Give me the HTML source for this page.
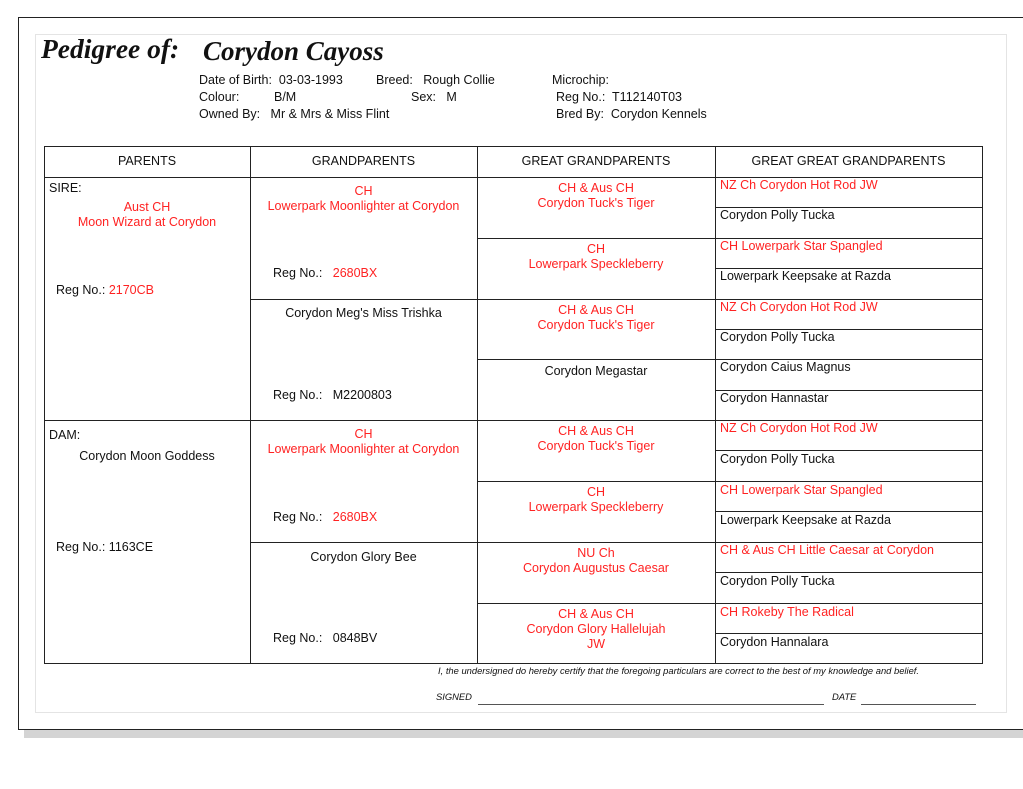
<!DOCTYPE html>
<html><head><meta charset="utf-8"><style>
*{margin:0;padding:0;box-sizing:border-box}
body{width:1023px;height:789px;background:#fff;position:relative;overflow:hidden;font-family:"Liberation Sans",sans-serif;font-size:12.5px;color:#111}
.a{position:absolute;white-space:nowrap;line-height:15px;margin-top:2px}
.r{color:#ff2222}
.c{text-align:center}
.h{position:absolute;background:#222;height:1px}
.v{position:absolute;background:#222;width:1px}
</style></head><body>
<div style="position:absolute;left:18px;top:17px;width:1010px;height:713px;border:1px solid #222;border-right:none"></div>
<div style="position:absolute;left:24px;top:730px;width:1000px;height:8px;background:#d4d4d4"></div>
<div style="position:absolute;left:35px;top:34px;width:972px;height:679px;border:1px solid #e4e4e4"></div>
<div class="a" style="left:41px;top:32px;font-family:'Liberation Serif',serif;font-style:italic;font-weight:bold;font-size:27.5px;line-height:30px">Pedigree of:</div>
<div class="a" style="left:203px;top:34px;font-family:'Liberation Serif',serif;font-style:italic;font-weight:bold;font-size:27px;line-height:30px">Corydon Cayoss</div>
<div class="a" style="left:199px;top:71px">Date of Birth:&nbsp; 03-03-1993</div>
<div class="a" style="left:376px;top:71px">Breed:&nbsp;&nbsp; Rough Collie</div>
<div class="a" style="left:552px;top:71px">Microchip:</div>
<div class="a" style="left:199px;top:88px">Colour:</div>
<div class="a" style="left:274px;top:88px">B/M</div>
<div class="a" style="left:411px;top:88px">Sex:&nbsp;&nbsp; M</div>
<div class="a" style="left:556px;top:88px">Reg No.:&nbsp; T112140T03</div>
<div class="a" style="left:199px;top:105px">Owned By:&nbsp;&nbsp; Mr &amp; Mrs &amp; Miss Flint</div>
<div class="a" style="left:556px;top:105px">Bred By:&nbsp; Corydon Kennels</div>

<div style="position:absolute;left:44px;top:146px;width:939px;height:518px;border:1px solid #222"></div>
<div class="h" style="left:44px;top:177px;width:938px"></div>
<div class="v" style="left:250px;top:146px;height:517px"></div>
<div class="v" style="left:477px;top:146px;height:517px"></div>
<div class="v" style="left:715px;top:146px;height:517px"></div>
<div class="h" style="left:44px;top:420px;width:938px"></div>
<div class="h" style="left:250px;top:299px;width:732px"></div>
<div class="h" style="left:250px;top:542px;width:732px"></div>
<div class="h" style="left:477px;top:238px;width:505px"></div>
<div class="h" style="left:477px;top:359px;width:505px"></div>
<div class="h" style="left:477px;top:481px;width:505px"></div>
<div class="h" style="left:477px;top:603px;width:505px"></div>
<div class="h" style="left:715px;top:207px;width:267px"></div>
<div class="h" style="left:715px;top:268px;width:267px"></div>
<div class="h" style="left:715px;top:329px;width:267px"></div>
<div class="h" style="left:715px;top:390px;width:267px"></div>
<div class="h" style="left:715px;top:450px;width:267px"></div>
<div class="h" style="left:715px;top:511px;width:267px"></div>
<div class="h" style="left:715px;top:572px;width:267px"></div>
<div class="h" style="left:715px;top:633px;width:267px"></div>

<div class="a c" style="left:44px;width:206px;top:152px">PARENTS</div>
<div class="a c" style="left:250px;width:227px;top:152px">GRANDPARENTS</div>
<div class="a c" style="left:477px;width:238px;top:152px">GREAT GRANDPARENTS</div>
<div class="a c" style="left:715px;width:267px;top:152px">GREAT GREAT GRANDPARENTS</div>

<div class="a" style="left:49px;top:179px">SIRE:</div>
<div class="a c r" style="left:44px;width:206px;top:198px">Aust CH<br>Moon Wizard at Corydon</div>
<div class="a" style="left:56px;top:281px">Reg No.: <span class="r">2170CB</span></div>
<div class="a" style="left:49px;top:426px">DAM:</div>
<div class="a c" style="left:44px;width:206px;top:447px">Corydon Moon Goddess</div>
<div class="a" style="left:56px;top:538px">Reg No.: 1163CE</div>

<div class="a c r" style="left:250px;width:227px;top:182px">CH<br>Lowerpark Moonlighter at Corydon</div>
<div class="a" style="left:273px;top:264px">Reg No.:&nbsp;&nbsp; <span class="r">2680BX</span></div>
<div class="a c" style="left:250px;width:227px;top:304px">Corydon Meg's Miss Trishka</div>
<div class="a" style="left:273px;top:386px">Reg No.:&nbsp;&nbsp; M2200803</div>
<div class="a c r" style="left:250px;width:227px;top:425px">CH<br>Lowerpark Moonlighter at Corydon</div>
<div class="a" style="left:273px;top:508px">Reg No.:&nbsp;&nbsp; <span class="r">2680BX</span></div>
<div class="a c" style="left:250px;width:227px;top:548px">Corydon Glory Bee</div>
<div class="a" style="left:273px;top:629px">Reg No.:&nbsp;&nbsp; 0848BV</div>

<div class="a c r" style="left:477px;width:238px;top:179px">CH &amp; Aus CH<br>Corydon Tuck's Tiger</div>
<div class="a c r" style="left:477px;width:238px;top:240px">CH<br>Lowerpark Speckleberry</div>
<div class="a c r" style="left:477px;width:238px;top:301px">CH &amp; Aus CH<br>Corydon Tuck's Tiger</div>
<div class="a c" style="left:477px;width:238px;top:362px">Corydon Megastar</div>
<div class="a c r" style="left:477px;width:238px;top:422px">CH &amp; Aus CH<br>Corydon Tuck's Tiger</div>
<div class="a c r" style="left:477px;width:238px;top:483px">CH<br>Lowerpark Speckleberry</div>
<div class="a c r" style="left:477px;width:238px;top:544px">NU Ch<br>Corydon Augustus Caesar</div>
<div class="a c r" style="left:477px;width:238px;top:605px">CH &amp; Aus CH<br>Corydon Glory Hallelujah<br>JW</div>

<div class="a r" style="left:720px;top:176px">NZ Ch Corydon Hot Rod JW</div>
<div class="a" style="left:720px;top:206px">Corydon Polly Tucka</div>
<div class="a r" style="left:720px;top:237px">CH Lowerpark Star Spangled</div>
<div class="a" style="left:720px;top:267px">Lowerpark Keepsake at Razda</div>
<div class="a r" style="left:720px;top:298px">NZ Ch Corydon Hot Rod JW</div>
<div class="a" style="left:720px;top:328px">Corydon Polly Tucka</div>
<div class="a" style="left:720px;top:358px">Corydon Caius Magnus</div>
<div class="a" style="left:720px;top:389px">Corydon Hannastar</div>
<div class="a r" style="left:720px;top:419px">NZ Ch Corydon Hot Rod JW</div>
<div class="a" style="left:720px;top:450px">Corydon Polly Tucka</div>
<div class="a r" style="left:720px;top:481px">CH Lowerpark Star Spangled</div>
<div class="a" style="left:720px;top:511px">Lowerpark Keepsake at Razda</div>
<div class="a r" style="left:720px;top:541px">CH &amp; Aus CH Little Caesar at Corydon</div>
<div class="a" style="left:720px;top:572px">Corydon Polly Tucka</div>
<div class="a r" style="left:720px;top:603px">CH Rokeby The Radical</div>
<div class="a" style="left:720px;top:633px">Corydon Hannalara</div>

<div class="a" style="left:438px;top:663px;font-size:9.4px;font-style:italic;line-height:12px">I, the undersigned do hereby certify that the foregoing particulars are correct to the best of my knowledge and belief.</div>
<div class="a" style="left:436px;top:689px;font-size:9.4px;font-style:italic;line-height:12px">SIGNED</div>
<div class="h" style="left:478px;top:704px;width:346px;background:#555"></div>
<div class="a" style="left:832px;top:689px;font-size:9.4px;font-style:italic;line-height:12px">DATE</div>
<div class="h" style="left:861px;top:704px;width:115px;background:#555"></div>
</body></html>
